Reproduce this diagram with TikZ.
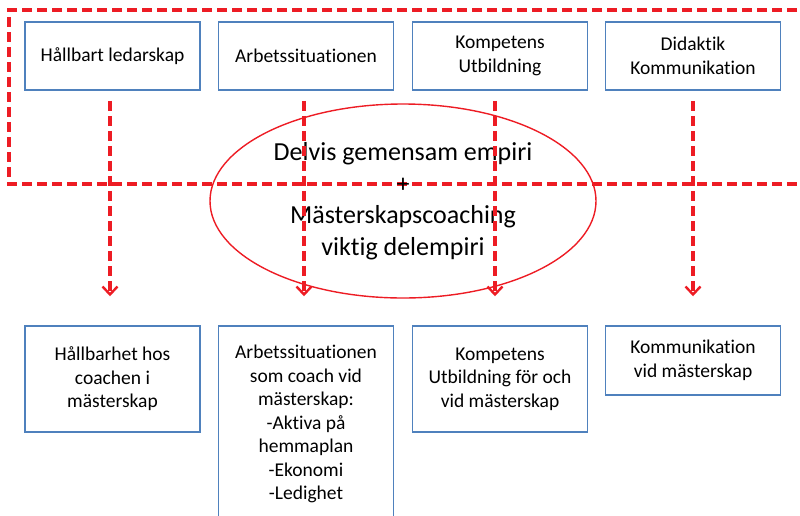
\documentclass[tikz,border=0pt]{standalone}
\usepackage{fontspec}
\setmainfont{Carlito}[Ligatures=NoCommon]
\usetikzlibrary{arrows.meta,shapes.geometric}
\definecolor{dred}{RGB}{237,28,36}
\definecolor{bblue}{RGB}{79,129,189}
\tikzset{
  box/.style={draw=bblue, line width=1.5pt, minimum width=175pt, minimum height=68pt,
    align=center, inner sep=2pt, font=\fontsize{19.5}{23.5}\selectfont},
  rdash/.style={draw=dred, line width=3.2pt, dash pattern=on 10pt off 5pt},
  rarrow/.style={rdash, -{Straight Barb[length=8pt,width=15pt,line width=2.4pt]}},
}
\begin{document}
\begin{tikzpicture}[x=1pt,y=-1pt]
\useasboundingbox (0,0) rectangle (800,515);
% dashed frame (open to the right)
\coordinate (fa) at (812,10);
\coordinate (fb) at (9,10);
\coordinate (fc) at (9,184);
\coordinate (fd) at (812,184);
\draw[rdash] (fa) -- (fb) -- (fc) -- (fd);
% top boxes
\node[box] (t1) at (112.5,56) {Hållbart ledarskap};
\node[box] (t2) at (306,56) {Arbetssituationen};
\node[box] (t3) at (500,56) {Kompetens\\Utbildning};
\node[box] (t4) at (693,56) {Didaktik\\Kommunikation};
% bottom boxes
\node[box, minimum height=106pt] (b1) at (112.5,379) {Hållbarhet hos\\coachen i\\mästerskap};
\node[box, minimum height=196pt] (b2) at (306,424) {Arbetssituationen\\som coach vid\\mästerskap:\\-Aktiva på\\hemmaplan\\-Ekonomi\\-Ledighet};
\node[box, minimum height=106pt] (b3) at (500,379) {Kompetens\\Utbildning för och\\vid mästerskap};
\node[box, minimum height=69pt] (b4) at (693,360.5) {Kommunikation\\vid mästerskap};
% ellipse
\node[ellipse, draw=dred, line width=1.4pt, minimum width=386pt, minimum height=194pt,
  align=center, font=\fontsize{26}{31.5}\selectfont] (el) at (403,201)
  {Delvis gemensam empiri\\+\\Mästerskapscoaching\\viktig delempiri};
% arrows
\draw[rarrow, shorten <=10pt, shorten >=29pt] ([xshift=-2.5pt]t1.south) -- ([xshift=-2.5pt]b1.north);
\draw[rarrow, shorten <=10pt, shorten >=29pt] ([xshift=-2pt]t2.south) -- ([xshift=-2pt]b2.north);
\draw[rarrow, shorten <=10pt, shorten >=29pt] ([xshift=-5pt]t3.south) -- ([xshift=-5pt]b3.north);
\draw[rarrow, shorten <=10pt, shorten >=29pt] (t4.south) -- (b4.north);
\end{tikzpicture}
\end{document}
